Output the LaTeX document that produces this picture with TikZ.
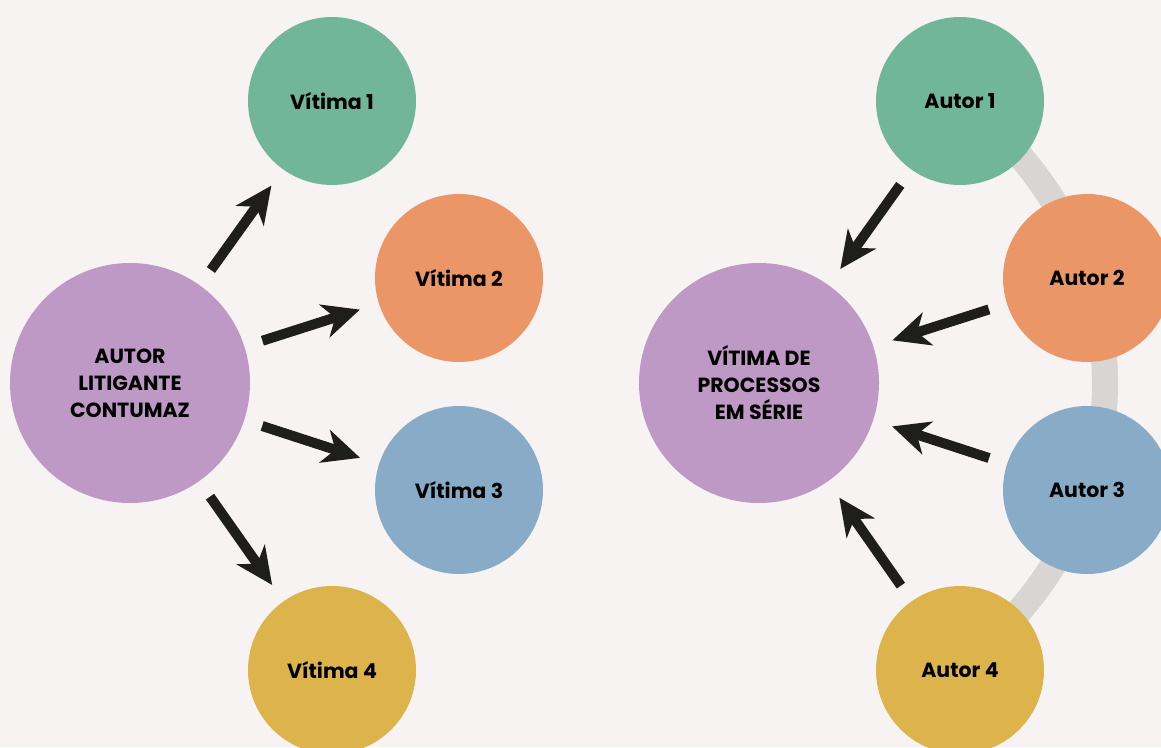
\documentclass[tikz,border=0pt]{standalone}
\usepackage{fontspec}
\newfontfamily\lblfont{Poppins Bold}
\usetikzlibrary{arrows.meta}
\definecolor{bgc}{HTML}{F7F3F2}
\definecolor{cgreen}{HTML}{72B69A}
\definecolor{corange}{HTML}{EB9666}
\definecolor{cblue}{HTML}{88ACC8}
\definecolor{cyellow}{HTML}{DDB44B}
\definecolor{cpurple}{HTML}{BF99C6}
\definecolor{carrow}{HTML}{1E1E1C}
\definecolor{carc}{HTML}{D9D5D3}
\newcommand{\lowtxt}[1]{\raisebox{-3pt}{#1}}
\tikzset{
  bigc/.style={circle, fill=cpurple, minimum size=240pt, inner sep=0pt, outer sep=0pt,
    align=center, font=\lblfont\fontsize{20.5}{27}\selectfont, text=black},
  smallc/.style={circle, minimum size=168pt, inner sep=0pt, outer sep=0pt,
    font=\lblfont\fontsize{20.5}{27}\selectfont, text=black},
  arr/.style={draw=carrow, line width=10pt, shorten <=19pt, shorten >=20pt,
    -{Stealth[length=37pt, width=34pt, inset=11pt]}},
  arcline/.style={draw=carc, line width=26pt}
}
\begin{document}
\begin{tikzpicture}[x=1pt, y=-1pt]
\fill[bgc] (0,0) rectangle (1161,747);
\useasboundingbox (0,0) rectangle (1161,747);
% left group
\node[bigc] (L) at (130,383) {AUTOR\\LITIGANTE\\CONTUMAZ};
\node[smallc, fill=cgreen] (V1) at (332,101) {\lowtxt{Vítima 1}};
\node[smallc, fill=corange] (V2) at (459,278) {\lowtxt{Vítima 2}};
\node[smallc, fill=cblue] (V3) at (459,490) {\lowtxt{Vítima 3}};
\node[smallc, fill=cyellow] (V4) at (332,670) {\lowtxt{Vítima 4}};
\draw[arr] (L) -- (V1);
\draw[arr] (L) -- (V2);
\draw[arr] (L) -- (V3);
\draw[arr] (L) -- (V4);
% right group
\coordinate (Rc) at (759,383);
\draw[arcline] (Rc) ++(-55:346) arc[start angle=-55, end angle=55, radius=346];
\node[bigc] (R) at (Rc) {VÍTIMA DE\\PROCESSOS\\EM SÉRIE};
\node[smallc, fill=cgreen] (A1) at (960,101) {\lowtxt{Autor 1}};
\node[smallc, fill=corange] (A2) at (1087,278) {\lowtxt{Autor 2}};
\node[smallc, fill=cblue] (A3) at (1087,490) {\lowtxt{Autor 3}};
\node[smallc, fill=cyellow] (A4) at (960,670) {\lowtxt{Autor 4}};
\draw[arr] (A1) -- (R);
\draw[arr] (A2) -- (R);
\draw[arr] (A3) -- (R);
\draw[arr] (A4) -- (R);
\end{tikzpicture}
\end{document}
